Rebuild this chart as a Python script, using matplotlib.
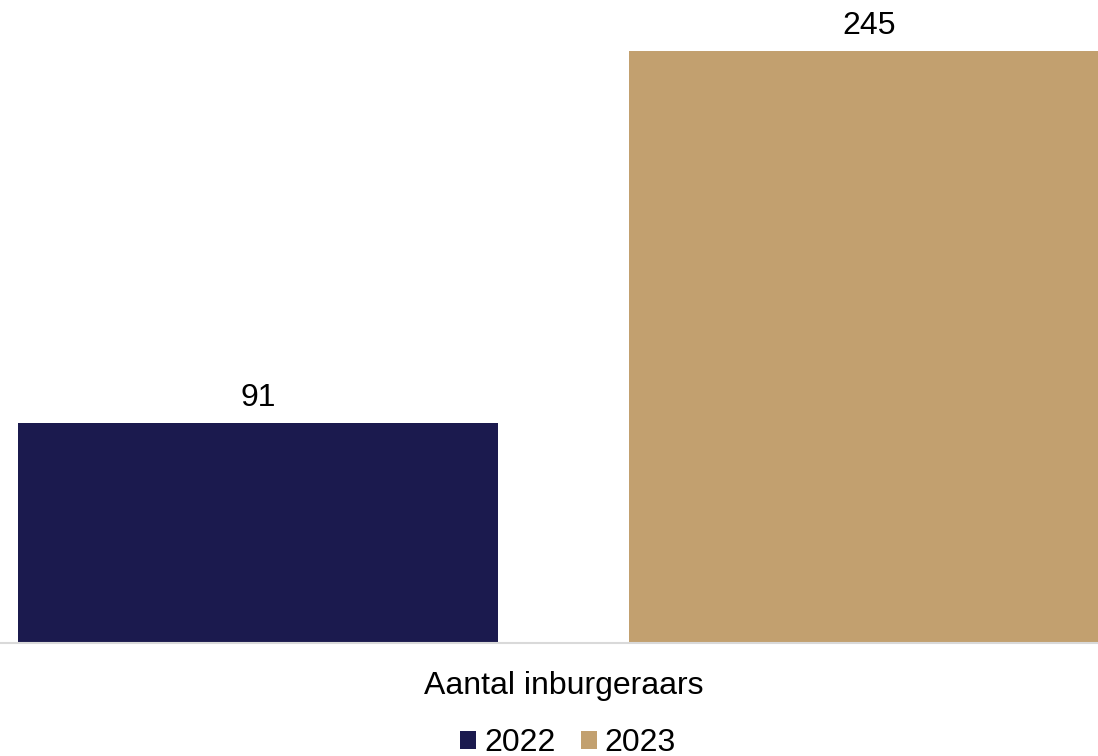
import matplotlib
matplotlib.use("Agg")
import matplotlib.pyplot as plt

plt.rcParams['font.family'] = ['Liberation Sans', 'DejaVu Sans']

category = "Aantal inburgeraars"
years = ["2022", "2023"]
values = [91, 245]
colors = ["#1b1a4e", "#c2a06f"]

fig = plt.figure(figsize=(10.98, 7.56), dpi=100)
ax = fig.add_axes([0, 113 / 756, 1, 643 / 756])

width = 0.44
offsets = [-0.28, 0.28]
for off, v, c, yr in zip(offsets, values, colors, years):
    ax.bar(off, v, width=width, color=c, label=yr, zorder=2)
    ax.annotate(f"{v}", (off, v), xytext=(0, 7), textcoords="offset points",
                ha="center", va="bottom", fontsize=23, color="#000000")

ax.set_xlim(-0.5165, 0.4899)
ax.set_ylim(0, 266.1)
for s in ["top", "right", "left"]:
    ax.spines[s].set_visible(False)
ax.spines["bottom"].set_color("#d9d9d9")
ax.spines["bottom"].set_linewidth(1.5)
ax.set_yticks([])
ax.set_xticks([0])
ax.set_xticklabels([category], fontsize=23)
ax.tick_params(axis="x", length=0, pad=20)

fig.legend(loc="center", bbox_to_anchor=(568 / 1098, 1 - 743 / 756), ncol=2,
           frameon=False, fontsize=23, handlelength=0.5, handleheight=0.5,
           handletextpad=0.25, columnspacing=0.8, borderaxespad=0, borderpad=0)

fig.savefig("out.png", dpi=100)
